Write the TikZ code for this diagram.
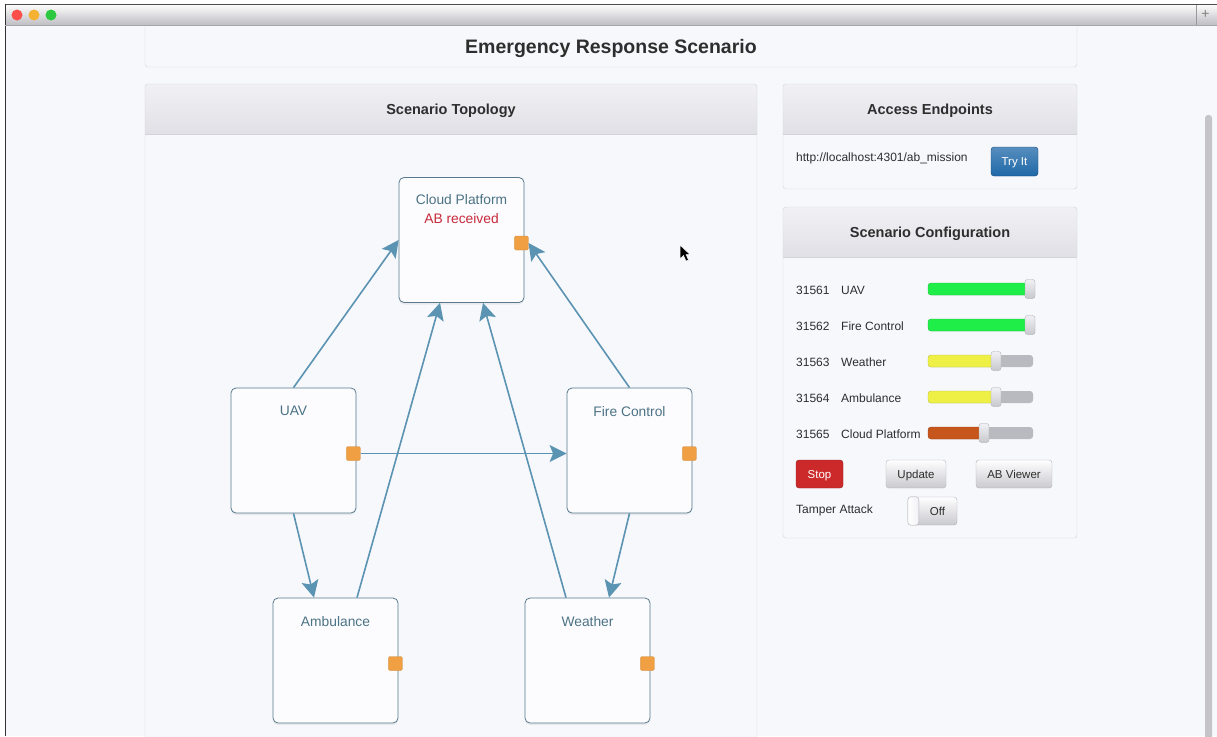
\documentclass[tikz,border=0pt]{standalone}
\usepackage{fontspec}
\setmainfont{Liberation Sans}
\usetikzlibrary{arrows.meta,calc,positioning,shadows}
\definecolor{pagebg}{HTML}{F7F8FC}
\definecolor{paneledge}{HTML}{D3D4DA}
\definecolor{headtop}{HTML}{F1F1F5}
\definecolor{headbot}{HTML}{E0E0E6}
\definecolor{linkblue}{HTML}{5B93B2}
\definecolor{boxedge}{HTML}{57798B}
\definecolor{boxtext}{HTML}{4C7285}
\definecolor{portorange}{HTML}{F0A043}
\definecolor{alertred}{HTML}{C8293B}
\definecolor{inktext}{HTML}{2E2E2E}
\definecolor{trackgray}{HTML}{B9BAC0}
\definecolor{barsgreen}{HTML}{20EE48}
\definecolor{barsyellow}{HTML}{EEF046}
\definecolor{barsorange}{HTML}{C6561C}
\definecolor{stopred}{HTML}{CC2A2A}
\definecolor{tryblue}{HTML}{1F68A8}
\definecolor{btnedge}{HTML}{B2B2BA}
\definecolor{lightclose}{HTML}{FC4F4A}
\definecolor{lightmin}{HTML}{F4B132}
\definecolor{lightzoom}{HTML}{2BC840}
\newcommand{\PanelFont}[1]{\fontsize{#1}{#1}\selectfont}
\newcommand{\DrawPanel}[5]{%
  \fill[pagebg, rounded corners=3pt] (#1,#2) rectangle (#3,#4);
  \shade[top color=headtop, bottom color=headbot] (#1,#5) [rounded corners=3pt] -- (#1,#2) -- (#3,#2) [sharp corners] -- (#3,#5) -- cycle;
  \draw[paneledge] (#1,#5) -- (#3,#5);
  \draw[paneledge, rounded corners=3pt] (#1,#2) rectangle (#3,#4);}

\begin{document}
\begin{tikzpicture}[x=1pt,y=-1pt,
  device/.style={draw=boxedge, fill=white!60!pagebg, rounded corners=5pt, line width=0.8pt,
    minimum width=125pt, minimum height=125pt, drop shadow={opacity=0.12, shadow xshift=0pt, shadow yshift=-2pt}},
  devtext/.style={text=boxtext, font=\PanelFont{13.8}, align=center},
  port/.style={fill=portorange, draw=portorange!85!black, line width=0.3pt, rounded corners=1.5pt, minimum size=14pt, inner sep=0pt},
  link/.style={draw=linkblue, line width=1.6pt, -{Stealth[length=17pt,width=17pt,inset=3.5pt]}},
  headtext/.style={text=inktext, font=\bfseries\PanelFont{14.5}},
  cfgtext/.style={text=inktext, font=\PanelFont{12}, anchor=west, inner sep=0pt},
  greybtn/.style={draw=btnedge, top color=white!95!headtop, bottom color=headbot!90!black, rounded corners=3pt,
    inner sep=0pt, text=inktext, font=\PanelFont{11.5}, minimum height=28pt, text depth=0pt}]
\useasboundingbox (0,0) rectangle (1217,736);
\fill[white] (0,0) rectangle (1217,736);
\fill[pagebg] (5,25) rectangle (1217,736);

\DrawPanel{145}{15}{1077}{67}{15}
\node[headtext, font=\bfseries\PanelFont{19.5}] (maintitle) at (611,49) {Emergency Response Scenario};

\DrawPanel{145}{84}{757}{750}{134}
\node[headtext] (topotitle) at (451,111) {Scenario Topology};
\DrawPanel{783}{84}{1077}{189}{134}
\node[headtext] (accesstitle) at (930,111) {Access Endpoints};
\DrawPanel{783}{207}{1077}{538}{257}
\node[headtext] (configtitle) at (930,234) {Scenario Configuration};

\node[device] (cloud) at (461.5,240) {};
\node[device] (uav) at (293.5,450.5) {};
\node[device] (fire) at (629.5,450.5) {};
\node[device] (amb) at (335.5,660.5) {};
\node[device] (wx) at (587.5,660.5) {};
\node[devtext, below=14pt of cloud.north] (cloudtext) {Cloud Platform\\[5pt]{\color{alertred}AB received}};
\node[devtext, below=15pt of uav.north] (uavtext) {UAV};
\node[devtext, below=15pt of fire.north] (firetext) {Fire Control};
\node[devtext, below=15pt of amb.north] (ambtext) {Ambulance};
\node[devtext, below=15pt of wx.north] (wxtext) {Weather};
\foreach \dev in {cloud,uav,fire,amb,wx}
  \node[port] (\dev port) at ([shift={(-3,3)}]\dev.east) {};

\draw[link] (uav.north) -- (cloud.west);
\draw[link] (fire.north) -- (cloudport.east);
\draw[link] (uavport.east) -- (uavport.east -| fire.west);
\draw[link] (uav.south) -- ([xshift=-21.5pt]amb.north);
\draw[link] (fire.south) -- ([xshift=21.5pt]wx.north);
\draw[link] ([xshift=21.5pt]amb.north) -- ([xshift=-21.5pt]cloud.south);
\draw[link] ([xshift=-21.5pt]wx.north) -- ([xshift=21.5pt]cloud.south);

\node[cfgtext] (url) at (796,158.5) {http://localhost:4301/ab\_mission};
\node[draw=tryblue!70!black, top color=tryblue!75!white, bottom color=tryblue, rounded corners=3pt, text=white,
  font=\PanelFont{11.5}, minimum width=47pt, minimum height=29pt, inner sep=0pt, text depth=0pt] (tryit) at (1014.5,161.5) {Try It};

\foreach \y/\num/\name/\hx/\col in {289/31561/UAV/1030/barsgreen, 325/31562/Fire Control/1030/barsgreen,
    361/31563/Weather/996/barsyellow, 397/31564/Ambulance/996/barsyellow, 433/31565/Cloud Platform/984/barsorange}{
  \node[cfgtext] (id\num) at (796,\y+1.5) {\num};
  \node[cfgtext] (name\num) at (841,\y+1.5) {\name};
  \fill[trackgray, rounded corners=3pt] (928,\y-6) rectangle (1033,\y+6);
  \fill[\col, draw=\col!80!black, line width=0.3pt, rounded corners=3pt] (928,\y-6) rectangle (\hx,\y+6);
  \shade[top color=headtop, bottom color=trackgray!80!white, draw=trackgray!90!black, line width=0.3pt, rounded corners=2.5pt]
    (\hx-5,\y-9.5) rectangle (\hx+5,\y+9.5);
}

\node[draw=stopred!75!black, fill=stopred, rounded corners=3pt, text=white, font=\PanelFont{11.5},
  minimum width=47pt, minimum height=28pt, inner sep=0pt, text depth=0pt] (stopbtn) at (819.5,474) {Stop};
\node[greybtn, minimum width=60pt] (updatebtn) at (916,474) {Update};
\node[greybtn, minimum width=76pt] (viewerbtn) at (1014,474) {AB Viewer};
\node[cfgtext] (tamper) at (796,510.5) {Tamper Attack};
\node[greybtn, minimum width=49pt, minimum height=28pt] (toggle) at (932.5,511) {\hspace*{10pt}Off};
\shade[left color=white, right color=headtop, draw=btnedge, rounded corners=3pt] (toggle.north west) rectangle ([xshift=11pt]toggle.south west);

\shade[top color=white!90!headtop, bottom color=headbot!85!black] (5,4) rectangle (1217,25);
\draw[gray!60!black, line width=0.8pt] (5,4.5) -- (1217,4.5);
\draw[black!80, line width=0.8pt] (5.4,4) -- (5.4,736);
\draw[gray!70] (5,25) -- (1217,25);
\draw[gray!80] (1196,5) -- (1196,25);
\node[text=gray, font=\PanelFont{14}] (plus) at (1205.5,14.5) {+};
\foreach \x/\c in {17/lightclose, 34/lightmin, 51/lightzoom}
  \fill[\c] (\x,15) circle (5.5pt);

\fill[trackgray!85, rounded corners=3pt] (1205,115) rectangle (1212,745);

\fill[black, draw=white, line width=0.5pt] (680,245) -- (680,259) -- (683.5,255.5) -- (686,261) -- (688.5,260) -- (686,254.5) -- (690,254.5) -- cycle;
\end{tikzpicture}
\end{document}
